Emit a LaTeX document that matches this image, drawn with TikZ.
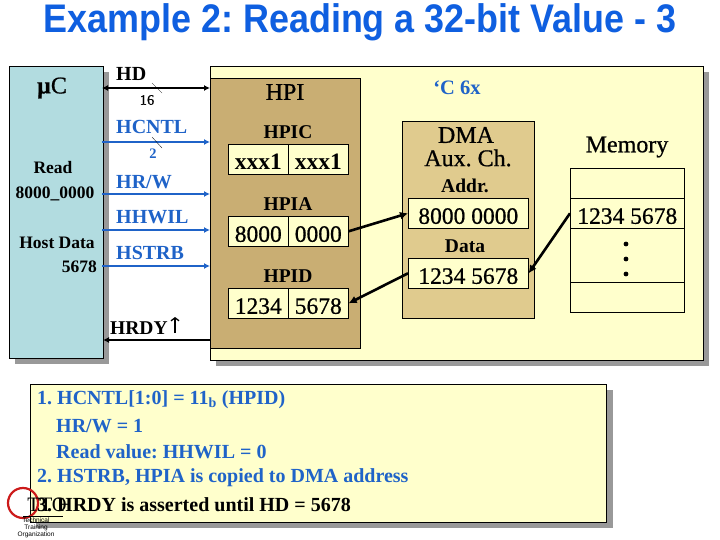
\documentclass[tikz,border=0pt]{standalone}
\usepackage{fontspec}
\setmainfont{Liberation Serif}
\setsansfont{Liberation Sans}
\newfontfamily\titlefont[FakeStretch=0.9]{Liberation Sans}
\newfontfamily\semifont[FakeBold=0.7]{Liberation Serif}
\usepackage{tikz}
\usepackage{xcolor}
\usetikzlibrary{arrows.meta,positioning,shapes,calc}
\definecolor{titleblue}{HTML}{0F5FE0}
\definecolor{sigblue}{HTML}{1F63C8}
\definecolor{hostbg}{HTML}{B2DCE0}
\definecolor{chipbg}{HTML}{FFFFCC}
\definecolor{hpibg}{HTML}{C9AE73}
\definecolor{dmabg}{HTML}{E0CB8E}
\definecolor{shadowgray}{HTML}{999999}
\definecolor{logored}{HTML}{CC1A1A}
\tikzset{
  x=1pt, y=-1pt,
  panel/.style={draw=black, line width=0.6pt, anchor=north west, inner sep=0pt},
  regcell/.style={draw=black, fill=chipbg, line width=0.6pt, anchor=north west, inner sep=0pt,
    minimum width=60pt, minimum height=30pt, text height=21pt, text depth=0pt,
    font=\semifont\fontsize{23.5}{23.5}\selectfont},
  widecell/.style={regcell, minimum width=120pt},
  memcell/.style={regcell, minimum width=114pt},
  biglabel/.style={inner sep=0pt, font=\bfseries\fontsize{19.5}{19.5}\selectfont},
  hugelabel/.style={inner sep=0pt, font=\semifont\fontsize{24}{24}\selectfont},
  hostlabel/.style={inner sep=0pt, font=\bfseries\fontsize{17.5}{17.5}\selectfont},
  siglabel/.style={anchor=west, inner sep=0pt, text=sigblue, font=\bfseries\fontsize{20}{20}\selectfont},
  notetext/.style={anchor=west, inner sep=0pt, font=\bfseries\fontsize{20}{20}\selectfont},
  bluewire/.style={draw=sigblue, line width=1.5pt, -{Latex[length=6pt,width=6pt]}},
  blackwire/.style={draw=black, line width=1.5pt},
  datawire/.style={draw=black, line width=2.6pt, -{Latex[length=8pt,width=8pt]}},
  tick/.style={draw=black, line width=0.3pt}
}
\begin{document}
\frenchspacing
\begin{tikzpicture}
  \useasboundingbox (0,0) rectangle (720,540);
  \fill[white] (0,0) rectangle (720,540);
  % title
  \node[text=titleblue, inner sep=0pt, font=\titlefont\bfseries\fontsize{39.9}{40}\selectfont] (title) at (360,22) {Example 2: Reading a 32-bit Value - 3};

  % host
  \fill[shadowgray] (15,72) rectangle (109,364);
  \node[panel, fill=hostbg, minimum width=94pt, minimum height=292pt] (host) at (9,66) {};
  \node[inner sep=0pt, font=\semifont\fontsize{24}{24}\selectfont] (uc) at (52,88) {\textbf{\textmu}C};
  \node[hostlabel] (readlbl) at (53,168) {Read};
  \node[hostlabel] (readaddr) at (55,194) {8000\_0000};
  \node[hostlabel] (hostlbl) at (57,243) {Host Data};
  \node[hostlabel, anchor=east] (hostval) at (97,267) {5678};

  % chip
  \fill[shadowgray] (216,72) rectangle (709,366);
  \node[panel, fill=chipbg, minimum width=493pt, minimum height=294pt] (chip) at (210,66) {};
  \node[panel, fill=hpibg, minimum width=150pt, minimum height=270pt] (hpi) at (210,78) {};
  \node[panel, fill=dmabg, minimum width=132pt, minimum height=197pt] (dma) at (402,121) {};

  % signals
  \coordinate (hdl) at (102,88);
  \coordinate (hdr) at (210,88);
  \draw[blackwire, {Latex[length=6pt,width=6pt]}-{Latex[length=6pt,width=6pt]}] (hdl) -- (hdr);
  \coordinate (cntl) at (102,142);
  \coordinate (cntr) at (210,142);
  \draw[bluewire] (cntl) -- (cntr);
  \coordinate (rwl) at (102,194);
  \coordinate (rwr) at (210,194);
  \draw[bluewire] (rwl) -- (rwr);
  \coordinate (hwl) at (102,230);
  \coordinate (hwr) at (210,230);
  \draw[bluewire] (hwl) -- (hwr);
  \coordinate (stl) at (102,266);
  \coordinate (str) at (210,266);
  \draw[bluewire] (stl) -- (str);
  \coordinate (rdyl) at (103,340);
  \coordinate (rdyr) at (210,340);
  \draw[blackwire, -{Latex[length=6pt,width=6pt]}] (rdyr) -- (rdyl);
  \draw[tick] (152,83) -- (162,93);
  \draw[tick] (152,137) -- (162,148);

  \node[anchor=west, inner sep=0pt, font=\bfseries\fontsize{20}{20}\selectfont] (hd) at (116,74) {HD};
  \node[inner sep=0pt, font=\semifont\fontsize{14.5}{14.5}\selectfont] (sixteen) at (147,100) {16};
  \node[siglabel] (hcntl) at (116,127) {HCNTL};
  \node[inner sep=0pt, text=sigblue, font=\bfseries\fontsize{14.5}{14.5}\selectfont] (two) at (153,154) {2};
  \node[siglabel] (hrw) at (116,182) {HR/W};
  \node[siglabel] (hhwil) at (116,217) {HHWIL};
  \node[siglabel] (hstrb) at (116,253) {HSTRB};
  \node[anchor=west, inner sep=0pt, font=\bfseries\fontsize{19.5}{19.5}\selectfont] (hrdy) at (110,328) {HRDY};
  \coordinate (hrdyup) at (175,333);
  \coordinate (hrdytop) at (175,317);
  \draw[black, line width=1.3pt, -{Straight Barb[length=3pt,width=8pt]}] (hrdyup) -- (hrdytop);

  % hpi registers
  \node[hugelabel] (hpilbl) at (285,92) {HPI};
  \node[biglabel] (hpiclbl) at (288,132) {HPIC};
  \node[regcell, font=\bfseries\fontsize{23.5}{23.5}\selectfont] (hpic1) at (228,144) {xxx1};
  \node[regcell, font=\bfseries\fontsize{23.5}{23.5}\selectfont] (hpic2) at (288,144) {xxx1};
  \node[biglabel] (hpialbl) at (288,204) {HPIA};
  \node[regcell] (hpia1) at (228,216) {8000};
  \node[regcell] (hpia2) at (288,216) {0000};
  \node[biglabel] (hpidlbl) at (288,276) {HPID};
  \node[regcell] (hpid1) at (228,288) {1234};
  \node[regcell] (hpid2) at (288,288) {5678};

  % dma
  \node[hugelabel] (dmalbl) at (466,135) {DMA};
  \node[hugelabel] (auxlbl) at (468,158) {Aux. Ch.};
  \node[biglabel] (addrlbl) at (465,186) {Addr.};
  \node[widecell] (addr) at (408,198) {8000 0000};
  \node[biglabel] (datalbl) at (465,246) {Data};
  \node[widecell] (data) at (408,258) {1234 5678};

  % chip text
  \node[inner sep=0pt, text=sigblue, font=\bfseries\fontsize{20.5}{20.5}\selectfont] (c6x) at (457,88) {`C 6x};
  \node[hugelabel] (memlbl) at (627,147) {Memory};

  % memory
  \node[memcell] (mem1) at (570,168) {};
  \node[memcell] (mem2) at (570,198) {1234 5678};
  \node[memcell, minimum height=54pt] (mem3) at (570,228) {};
  \node[memcell] (mem4) at (570,282) {};
  \foreach \dy in {244,259,274}
    \fill[black] (626,\dy) circle (2.4pt);

  % data path
  \draw[datawire] (hpia2.east) -- (addr.west);
  \draw[datawire] (data.west) -- (hpid2.east);
  \draw[datawire] (mem2.west) -- (data.east);

  % note
  \fill[shadowgray] (36,390) rectangle (613,528);
  \node[panel, fill=chipbg, minimum width=576pt, minimum height=138pt] (note) at (30,384) {};
  \foreach \nm/\nx/\ny/\txt in {
    noteone/37/400/{1. HCNTL[1:0] = 11\textsubscript{b} (HPID)},
    notetwo/56/426/{HR/W = 1},
    notethree/56/452/{Read value: HHWIL = 0},
    notefour/37/478/{2. HSTRB, HPIA is copied to DMA address}}
    \node[notetext, text=sigblue] (\nm) at (\nx,\ny) {\txt};
  \node[notetext] (notefive) at (37,505) {3. HRDY is asserted until HD = 5678};

  % logo
  \draw[logored, line width=2.2pt] (23,503) circle (15pt);
  \node[inner sep=0pt, font=\fontsize{20.5}{20.5}\selectfont] (logotto) at (47,505) {TTO};
  \coordinate (logol) at (23,516);
  \coordinate (logor) at (63,516);
  \draw[black, line width=0.5pt] (logol) -- (logor);
  \node[inner sep=0pt, font=\sffamily\fontsize{6.5}{7}\selectfont, align=center] (logotxt) at (36,528) {Technical\\Training\\Organization};
\end{tikzpicture}
\end{document}
